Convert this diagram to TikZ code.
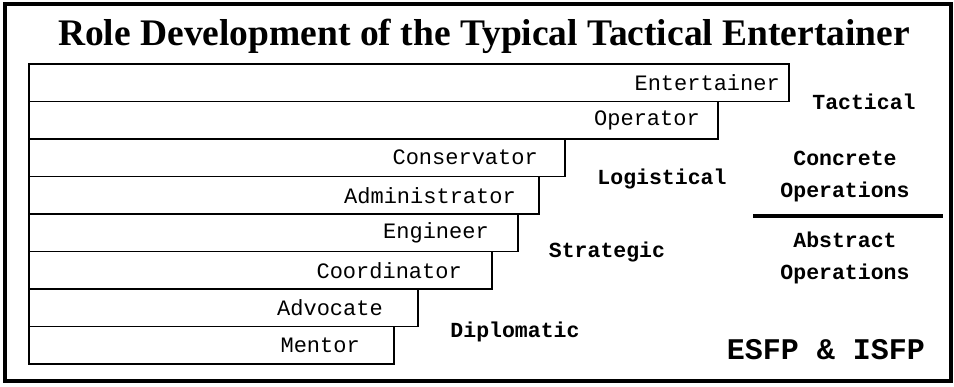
\documentclass[tikz,border=0pt]{standalone}
\usepackage{fontspec}
\setmainfont{Liberation Serif}
\newfontfamily\monof{Liberation Mono}
\begin{document}
\begin{tikzpicture}[x=1pt,y=-1pt,
  barbox/.style={draw=black, line width=1.8pt, anchor=north west, minimum height=37.5pt, inner sep=0pt, outer sep=0pt},
  rolelbl/.style={anchor=east, inner sep=0pt, font=\monof\fontsize{22}{22}\selectfont},
  catlbl/.style={inner sep=0pt, align=center, font=\monof\bfseries\fontsize{21.5}{32}\selectfont},
]
\useasboundingbox (0,0) rectangle (954,387);
\draw[line width=4pt] (5,4) rectangle (951,381);
\node[anchor=base, inner sep=0pt, font=\bfseries\fontsize{37.5}{37.5}\selectfont] (title) at (484,46) {Role Development of the Typical Tactical Entertainer};
% bars
\node[barbox, minimum width=760pt] (b1) at (29,64) {};
\node[barbox, minimum width=689pt] (b2) at (29,101.5) {};
\node[barbox, minimum width=536pt] (b3) at (29,139) {};
\node[barbox, minimum width=510pt] (b4) at (29,176.5) {};
\node[barbox, minimum width=489pt] (b5) at (29,214) {};
\node[barbox, minimum width=463pt] (b6) at (29,251.5) {};
\node[barbox, minimum width=389pt] (b7) at (29,289) {};
\node[barbox, minimum width=365pt] (b8) at (29,326.5) {};
% role labels
\node[rolelbl] (l1) at ([xshift=-9pt]b1.east) {Entertainer};
\node[rolelbl] (l2) at ([xshift=-18pt]b2.east) {Operator};
\node[rolelbl] (l3) at ([xshift=-27pt]b3.east) {Conservator};
\node[rolelbl] (l4) at ([xshift=-23pt]b4.east) {Administrator};
\node[rolelbl] (l5) at ([xshift=-29pt]b5.east) {Engineer};
\node[rolelbl] (l6) at ([xshift=-30pt]b6.east) {Coordinator};
\node[rolelbl] (l7) at ([xshift=-35pt]b7.east) {Advocate};
\node[rolelbl] (l8) at ([xshift=-34pt]b8.east) {Mentor};
% temperament labels
\node[catlbl] (tac) at (864,102) {Tactical};
\node[catlbl] (log) at (662,179) {Logistical};
\node[catlbl] (str) at (607,252) {Strategic};
\node[catlbl] (dip) at (515,332) {Diplomatic};
\node[catlbl] (conc) at (845,177) {Concrete\\Operations};
\node[catlbl] (abst) at (845,258) {Abstract\\Operations};
\coordinate (sepL) at (753,216);
\coordinate (sepR) at (943,216);
\draw[line width=4pt] (sepL) -- (sepR);
\node[inner sep=0pt, font=\monof\bfseries\fontsize{30}{30}\selectfont] (type) at (826,350) {ESFP \& ISFP};
\end{tikzpicture}
\end{document}
